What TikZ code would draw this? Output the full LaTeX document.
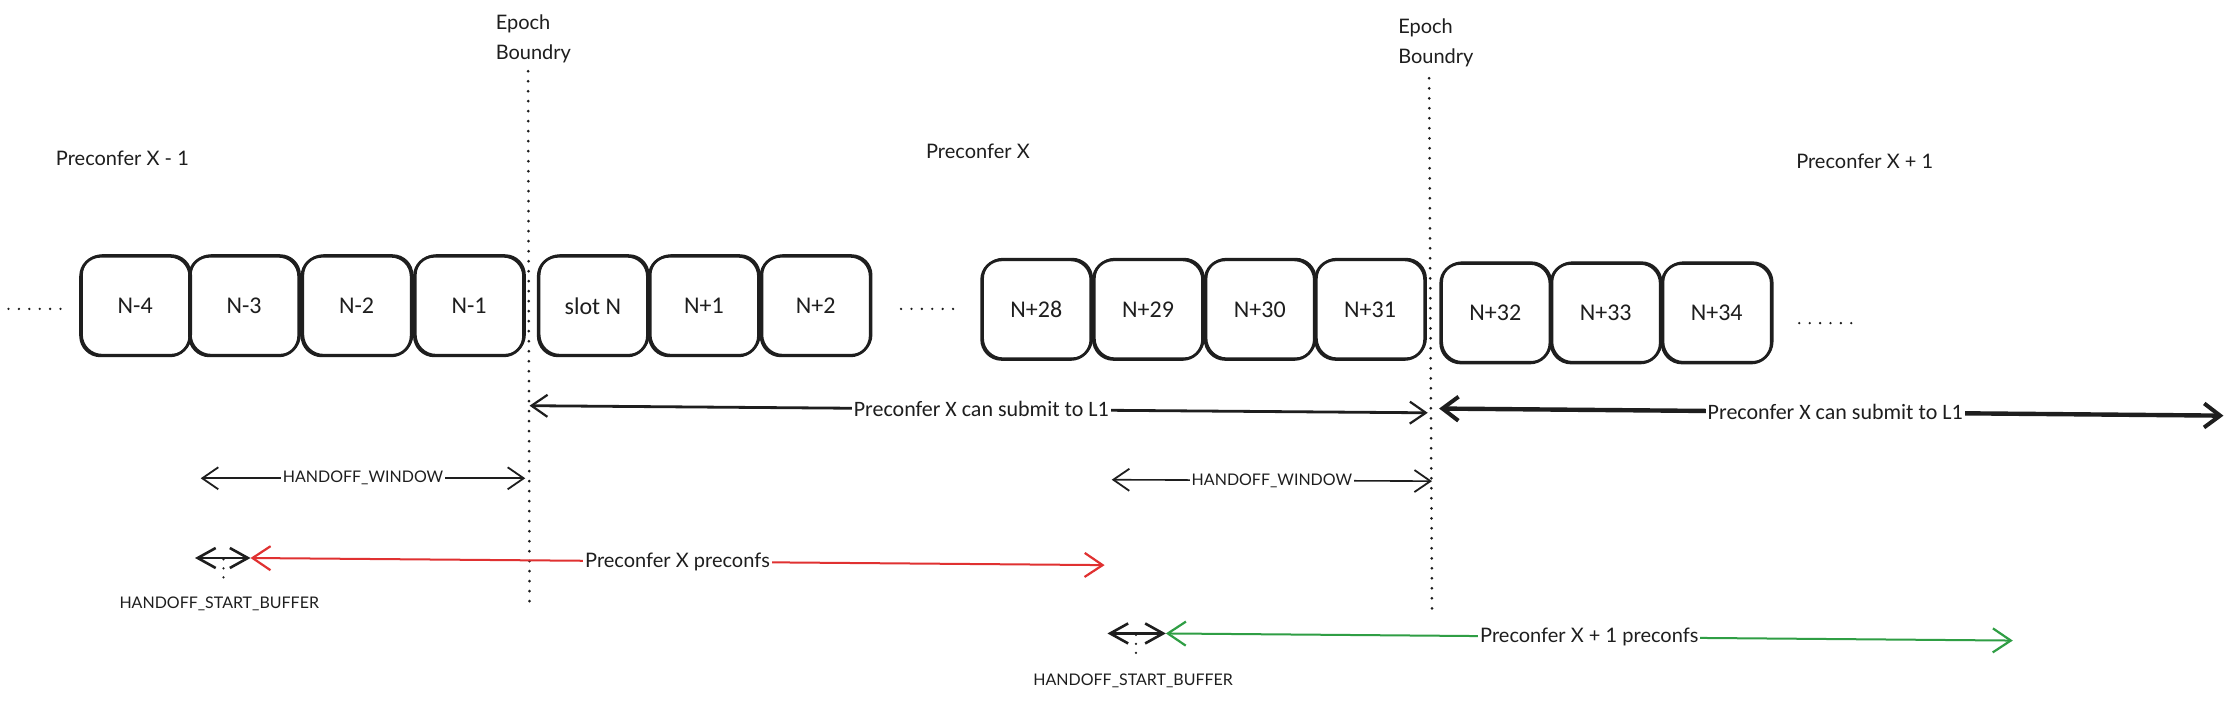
\documentclass[tikz,border=0pt]{standalone}
\usepackage{fontspec}
\setmainfont{Lato}
\newfontfamily\boxfont{Carlito}
\usetikzlibrary{arrows.meta}
\definecolor{ink}{HTML}{1E1E1E}
\definecolor{myred}{HTML}{E03131}
\definecolor{mygreen}{HTML}{2F9E44}
\tikzset{
  slotbox/.style={draw=ink, line width=1.4pt, rounded corners=10pt,
    minimum width=54.6pt, minimum height=49.8pt, inner sep=0pt,
    font=\boxfont\fontsize{12}{14}\selectfont, text=ink,
    preaction={draw=ink, line width=0.8pt, transform canvas={xshift=0.7pt,yshift=0.6pt}}},
  epochline/.style={draw=ink, line width=1.5pt, line cap=round, dash pattern=on 0pt off 5pt},
  dotrow/.style={draw=ink, line width=1.3pt, line cap=round, dash pattern=on 0pt off 5.2pt},
  toplabel/.style={font=\fontsize{10}{15}\selectfont, text=ink, align=left},
  arrlabel/.style={fill=white, inner sep=1pt, text=ink},
  thinarrow/.style={draw=ink, line width=0.8pt, {Straight Barb[length=8pt,width=11pt,line width=0.9pt]}-{Straight Barb[length=8pt,width=11pt,line width=0.9pt]}},
  thickarrow/.style={draw=ink, line width=2.2pt, {Straight Barb[length=8pt,width=12pt,line width=2pt]}-{Straight Barb[length=8pt,width=12pt,line width=2pt]}},
  medarrow/.style={draw=ink, line width=1.4pt, {Straight Barb[length=8pt,width=11pt,line width=1.1pt]}-{Straight Barb[length=8pt,width=11pt,line width=1.1pt]}},
  smallarrow/.style={draw=ink, line width=1.1pt, {Straight Barb[length=9pt,width=10pt,line width=1.3pt]}-{Straight Barb[length=9pt,width=10pt,line width=1.3pt]}},
  colarrow/.style={line width=1pt, {Straight Barb[length=9pt,width=12pt,line width=1.1pt]}-{Straight Barb[length=9pt,width=12pt,line width=1.1pt]}},
  smalllabel/.style={font=\fontsize{8}{10}\selectfont, text=ink},
  midlabel/.style={font=\boxfont\fontsize{11}{13}\selectfont},
  preclabel/.style={font=\fontsize{10}{12}\selectfont}
}
\begin{document}
\begin{tikzpicture}[x=0.71175pt,y=-0.71175pt]
\useasboundingbox[fill=white] (0,0) rectangle (1568,492);

% epoch labels and boundaries
\node[toplabel, anchor=north west, inner sep=0pt] (eb1) at (348,10) {Epoch\\Boundry};
\node[toplabel, anchor=north west, inner sep=0pt] (eb2) at (982,13) {Epoch\\Boundry};
\coordinate (e1t) at (371,50);
\coordinate (e1b) at (372,425);
\coordinate (e2t) at (1004,55);
\coordinate (e2b) at (1006,430);
\draw[epochline] (e1t) -- (e1b);
\draw[epochline] (e2t) -- (e2b);

% preconfer labels
\node[toplabel, inner sep=0pt] (pxm1) at (86,111) {Preconfer X - 1};
\node[toplabel, inner sep=0pt] (px) at (687,106) {Preconfer X};
\node[toplabel, inner sep=0pt] (pxp1) at (1310,113) {Preconfer X + 1};

% slots
\node[slotbox] (nm4) at (95,215) {N-4};
\node[slotbox] (nm3) at (171.5,215) {N-3};
\node[slotbox] (nm2) at (250.5,215) {N-2};
\node[slotbox] (nm1) at (329.5,215) {N-1};
\node[slotbox] (sn) at (416.5,215) {slot N};
\node[slotbox] (np1) at (494.5,215) {N+1};
\node[slotbox] (np2) at (573,215) {N+2};
\node[slotbox] (np28) at (728,217.5) {N+28};
\node[slotbox] (np29) at (806.5,217.5) {N+29};
\node[slotbox] (np30) at (885,217.5) {N+30};
\node[slotbox] (np31) at (962.5,217.5) {N+31};
\node[slotbox] (np32) at (1050.5,220) {N+32};
\node[slotbox] (np33) at (1128,220) {N+33};
\node[slotbox] (np34) at (1206,220) {N+34};

% ellipsis dots
\coordinate (d1a) at (6,217); \coordinate (d1b) at (43,217);
\coordinate (d2a) at (633,217); \coordinate (d2b) at (670,217);
\coordinate (d3a) at (1264,227); \coordinate (d3b) at (1301,227);
\draw[dotrow] (d1a) -- (d1b);
\draw[dotrow] (d2a) -- (d2b);
\draw[dotrow] (d3a) -- (d3b);

% submit arrows
\coordinate (s1a) at (372,285); \coordinate (s1b) at (1003,290);
\draw[medarrow] (s1a) -- node[arrlabel, midlabel, pos=0.503] (s1l) {Preconfer X can submit to L1} (s1b);
\coordinate (s2a) at (1011,287); \coordinate (s2b) at (1562,292);
\draw[thickarrow] (s2a) -- node[arrlabel, midlabel, pos=0.505] (s2l) {Preconfer X can submit to L1} (s2b);

% handoff windows
\coordinate (h1a) at (141,336); \coordinate (h1b) at (369,336);
\draw[thinarrow] (h1a) -- node[arrlabel, smalllabel] (h1l) {HANDOFF\_WINDOW} (h1b);
\coordinate (h2a) at (781,337); \coordinate (h2b) at (1006,338);
\draw[thinarrow] (h2a) -- node[arrlabel, smalllabel, pos=0.5] (h2l) {HANDOFF\_WINDOW} (h2b);

% red preconfs
\coordinate (r1a) at (176,392); \coordinate (r1b) at (776,397);
\draw[colarrow, draw=myred] (r1a) -- node[arrlabel, preclabel, pos=0.5] (r1l) {Preconfer X preconfs} (r1b);
\coordinate (b1a) at (137,392); \coordinate (b1b) at (176,392);
\draw[smallarrow] (b1a) -- (b1b);
\coordinate (b1m) at (157,393); \coordinate (b1d) at (157,411);
\draw[dotrow, dash pattern=on 0pt off 4.5pt, line width=1.2pt] (b1m) -- (b1d);
\node[smalllabel] (b1l) at (154,424) {HANDOFF\_START\_BUFFER};

% green preconfs
\coordinate (g1a) at (819,445); \coordinate (g1b) at (1414,450);
\draw[colarrow, draw=mygreen] (g1a) -- node[arrlabel, preclabel, pos=0.5] (g1l) {Preconfer X + 1 preconfs} (g1b);
\coordinate (b2a) at (778,445); \coordinate (b2b) at (819,445);
\draw[smallarrow] (b2a) -- (b2b);
\coordinate (b2m) at (798,446); \coordinate (b2d) at (798,464);
\draw[dotrow, dash pattern=on 0pt off 4.5pt, line width=1.2pt] (b2m) -- (b2d);
\node[smalllabel] (b2l) at (796,478) {HANDOFF\_START\_BUFFER};
\end{tikzpicture}
\end{document}
